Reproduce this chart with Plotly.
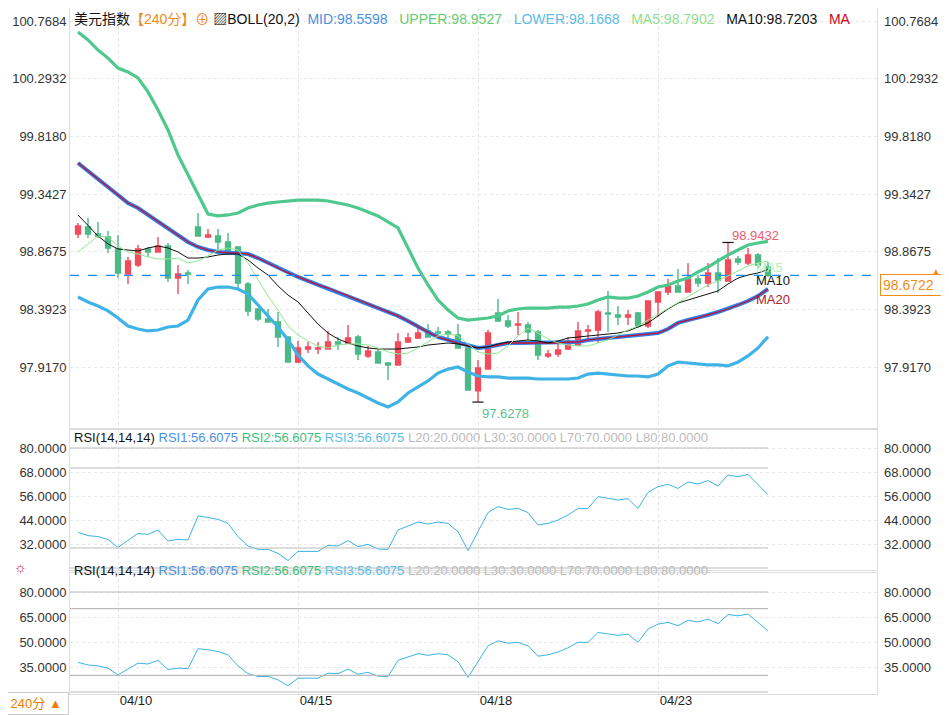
import plotly.graph_objects as go

# 240-minute candles of the US dollar index
open_ = [99.013, 99.071, 99.013, 98.988, 98.890, 98.683, 98.758, 98.890, 98.865, 98.914,
         98.650, 98.692, 99.071, 98.988, 98.997, 98.947, 98.906, 98.601, 98.395, 98.313,
         98.288, 98.164, 97.958, 98.065, 98.065, 98.065, 98.123, 98.115, 98.164, 98.008,
         98.041, 97.950, 97.934, 98.123, 98.156, 98.214, 98.205, 98.205, 98.181, 98.074,
         97.720, 97.901, 98.362, 98.296, 98.263, 98.263, 98.205, 98.008, 98.024, 98.065,
         98.098, 98.214, 98.222, 98.362, 98.346, 98.329, 98.362, 98.255, 98.453, 98.535,
         98.585, 98.535, 98.642, 98.609, 98.692, 98.626, 98.807, 98.774, 98.840, 98.741]
high = [99.104, 99.145, 99.112, 99.038, 99.005, 98.824, 98.922, 98.906, 98.988, 98.939,
        98.758, 98.716, 99.186, 99.054, 99.054, 99.021, 98.906, 98.617, 98.403, 98.395,
        98.370, 98.164, 98.131, 98.123, 98.123, 98.214, 98.164, 98.263, 98.181, 98.090,
        98.057, 97.958, 98.197, 98.197, 98.238, 98.271, 98.247, 98.222, 98.271, 98.115,
        97.975, 98.222, 98.477, 98.346, 98.370, 98.288, 98.222, 98.057, 98.115, 98.164,
        98.288, 98.263, 98.387, 98.544, 98.420, 98.387, 98.370, 98.461, 98.535, 98.642,
        98.725, 98.774, 98.675, 98.774, 98.815, 98.9432, 98.832, 98.898, 98.857, 98.782]
low = [98.980, 98.980, 98.980, 98.857, 98.650, 98.601, 98.741, 98.824, 98.865, 98.617,
       98.519, 98.601, 98.997, 98.980, 98.881, 98.840, 98.568, 98.337, 98.296, 98.288,
       98.082, 97.958, 97.950, 98.032, 98.024, 98.065, 98.057, 98.115, 97.975, 97.991,
       97.950, 97.810, 97.934, 98.115, 98.148, 98.164, 98.164, 98.140, 98.074, 97.728,
       97.6278, 97.901, 98.296, 98.238, 98.181, 98.140, 97.975, 97.991, 97.999, 98.057,
       98.098, 98.140, 98.115, 98.205, 98.263, 98.263, 98.238, 98.238, 98.329, 98.510,
       98.535, 98.535, 98.576, 98.576, 98.527, 98.626, 98.758, 98.758, 98.733, 98.659]
close = [99.079, 99.013, 98.997, 98.898, 98.692, 98.791, 98.890, 98.865, 98.914, 98.650,
         98.683, 98.683, 98.997, 99.005, 98.947, 98.865, 98.609, 98.379, 98.313, 98.288,
         98.164, 97.958, 98.074, 98.082, 98.074, 98.123, 98.107, 98.156, 98.024, 98.049,
         97.950, 97.934, 98.123, 98.156, 98.197, 98.164, 98.197, 98.189, 98.074, 97.728,
         97.909, 98.197, 98.296, 98.255, 98.271, 98.205, 98.016, 98.024, 98.057, 98.098,
         98.214, 98.222, 98.370, 98.354, 98.329, 98.346, 98.255, 98.461, 98.535, 98.585,
         98.535, 98.642, 98.609, 98.692, 98.634, 98.799, 98.782, 98.840, 98.758, 98.6722]

# BOLL(20,2) and moving averages as shown
boll_upper = [100.678, 100.612, 100.529, 100.463, 100.381, 100.349, 100.299, 100.184, 100.035, 99.870,
              99.664, 99.500, 99.335, 99.178, 99.162, 99.170, 99.186, 99.227, 99.252, 99.268,
              99.277, 99.285, 99.293, 99.293, 99.293, 99.285, 99.268, 99.252, 99.227, 99.195,
              99.162, 99.113, 99.063, 98.898, 98.732, 98.593, 98.469, 98.387, 98.321, 98.304,
              98.313, 98.321, 98.338, 98.379, 98.395, 98.403, 98.403, 98.403, 98.411, 98.411,
              98.420, 98.436, 98.469, 98.494, 98.485, 98.485, 98.502, 98.535, 98.576, 98.593,
              98.626, 98.650, 98.700, 98.741, 98.791, 98.840, 98.881, 98.922, 98.939, 98.9527]
boll_mid = [99.598, 99.532, 99.466, 99.401, 99.335, 99.268, 99.227, 99.170, 99.113, 99.054,
            98.997, 98.947, 98.906, 98.881, 98.865, 98.857, 98.857, 98.848, 98.815, 98.774,
            98.733, 98.692, 98.659, 98.626, 98.593, 98.568, 98.535, 98.502, 98.469, 98.436,
            98.403, 98.370, 98.338, 98.296, 98.247, 98.205, 98.164, 98.140, 98.115, 98.090,
            98.074, 98.082, 98.098, 98.115, 98.115, 98.115, 98.115, 98.115, 98.115, 98.123,
            98.123, 98.140, 98.148, 98.156, 98.164, 98.173, 98.181, 98.189, 98.197, 98.230,
            98.280, 98.304, 98.321, 98.346, 98.370, 98.395, 98.428, 98.461, 98.502, 98.5598]
boll_lower = [98.494, 98.453, 98.420, 98.379, 98.321, 98.255, 98.230, 98.214, 98.222, 98.247,
              98.255, 98.304, 98.469, 98.560, 98.576, 98.576, 98.560, 98.519, 98.428, 98.338,
              98.247, 98.140, 98.016, 97.926, 97.859, 97.818, 97.777, 97.736, 97.703, 97.662,
              97.620, 97.588, 97.629, 97.703, 97.752, 97.802, 97.867, 97.900, 97.917, 97.876,
              97.843, 97.835, 97.835, 97.826, 97.826, 97.826, 97.818, 97.818, 97.818, 97.818,
              97.826, 97.859, 97.867, 97.859, 97.851, 97.843, 97.843, 97.835, 97.859, 97.926,
              97.958, 97.950, 97.942, 97.934, 97.934, 97.926, 97.958, 98.008, 98.074, 98.1668]
ma5 = [98.865, 98.931, 98.997, 98.988, 98.914, 98.865, 98.848, 98.824, 98.807, 98.807,
       98.815, 98.774, 98.791, 98.832, 98.881, 98.898, 98.881, 98.774, 98.634, 98.502,
       98.387, 98.255, 98.181, 98.131, 98.090, 98.074, 98.098, 98.107, 98.107, 98.098,
       98.074, 98.041, 98.024, 98.032, 98.074, 98.123, 98.173, 98.189, 98.173, 98.107,
       98.041, 98.024, 98.032, 98.090, 98.173, 98.238, 98.197, 98.148, 98.115, 98.098,
       98.090, 98.090, 98.115, 98.140, 98.181, 98.222, 98.255, 98.304, 98.354, 98.403,
       98.453, 98.502, 98.544, 98.593, 98.626, 98.667, 98.708, 98.750, 98.774, 98.7902]
ma10 = [99.170, 99.079, 98.997, 98.931, 98.890, 98.881, 98.873, 98.898, 98.914, 98.898,
        98.865, 98.815, 98.815, 98.824, 98.840, 98.848, 98.848, 98.799, 98.733, 98.675,
        98.585, 98.510, 98.453, 98.362, 98.271, 98.197, 98.148, 98.115, 98.090, 98.074,
        98.065, 98.065, 98.065, 98.074, 98.082, 98.098, 98.107, 98.115, 98.107, 98.090,
        98.074, 98.082, 98.107, 98.123, 98.131, 98.140, 98.131, 98.115, 98.131, 98.156,
        98.164, 98.173, 98.181, 98.189, 98.197, 98.214, 98.247, 98.280, 98.338, 98.395,
        98.444, 98.469, 98.494, 98.519, 98.544, 98.601, 98.650, 98.675, 98.692, 98.7203]

rsi = [37.8, 36.2, 35.7, 34.3, 30.3, 34.0, 37.3, 36.8, 39.0, 33.5,
       34.3, 34.0, 46.0, 45.3, 44.3, 42.3, 35.7, 31.0, 29.3, 29.3,
       27.3, 23.7, 28.3, 28.3, 28.3, 31.3, 31.0, 33.7, 30.7, 31.8,
       29.5, 29.3, 39.0, 41.0, 43.0, 42.0, 43.0, 42.3, 38.2, 28.7,
       38.2, 47.7, 50.7, 49.3, 49.8, 47.7, 41.5, 42.3, 44.0, 46.5,
       49.8, 49.8, 55.7, 54.8, 54.0, 54.7, 49.8, 57.8, 60.7, 61.8,
       59.8, 63.0, 62.0, 63.7, 61.0, 66.5, 65.7, 66.8, 61.5, 56.6075]

price_ticks = [100.7684, 100.2932, 99.8180, 99.3427, 98.8675, 98.3923, 97.9170]
rsi1_ticks = [80, 68, 56, 44, 32]
rsi2_ticks = [80, 65, 50, 35]
rsi_levels = [20, 30, 70, 80]
date_pos = [4, 22, 40, 58]
date_labels = ["04/10", "04/15", "04/18", "04/23"]
last_price = 98.6722
hi_idx, lo_idx = 65, 40

UP, DOWN = "#f04c5c", "#4cb987"
x = list(range(len(close)))
FONT = "Liberation Sans, Noto Sans CJK SC, sans-serif"
# the page body adds an 8px offset, so the figure is 8px smaller than the window
H = 686  # plot height in px (margin b = 21)


def py(ypix):
    return (694 - ypix) / H


def px(xpix):
    return (xpix - 70) / 807


fig = go.Figure()
fig.add_trace(go.Scatter(x=x, y=boll_upper, mode="lines", line=dict(color="#4ec88d", width=3.2)))
fig.add_trace(go.Scatter(x=x, y=boll_lower, mode="lines", line=dict(color="#3fb3e6", width=3.2)))
fig.add_trace(go.Scatter(x=x, y=boll_mid, mode="lines", line=dict(color="#2e7fe8", width=4)))
fig.add_trace(go.Scatter(x=x, y=boll_mid, mode="lines", line=dict(color="#c8102e", width=1.3)))
fig.add_trace(go.Scatter(x=x, y=ma10, mode="lines", line=dict(color="#111111", width=1)))
fig.add_trace(go.Scatter(x=x, y=ma5, mode="lines", line=dict(color="#90e890", width=1)))
fig.add_trace(go.Candlestick(x=x, open=open_, high=high, low=low, close=close,
                             increasing=dict(line=dict(color=UP, width=1.4), fillcolor=UP),
                             decreasing=dict(line=dict(color=DOWN, width=1.4), fillcolor=DOWN),
                             whiskerwidth=0))
fig.add_trace(go.Scatter(x=[hi_idx, lo_idx], y=[high[hi_idx], low[lo_idx]], mode="markers",
                         marker=dict(symbol="line-ew", size=8, line=dict(color="#111", width=1.2))))
fig.add_trace(go.Scatter(x=x, y=rsi, mode="lines", line=dict(color="#3bb4e8", width=1),
                         xaxis="x2", yaxis="y2"))
fig.add_trace(go.Scatter(x=x, y=rsi, mode="lines", line=dict(color="#3bb4e8", width=1),
                         xaxis="x3", yaxis="y3"))

xcommon = dict(range=[-0.8, 79.9], tickvals=date_pos, showgrid=True, gridcolor="#e4e4e4",
               griddash="dot", zeroline=False, showline=True, linecolor="#dddddd",
               mirror=True, rangeslider=dict(visible=False), fixedrange=True, automargin=False)
ycommon = dict(showgrid=True, gridcolor="#e8e8e8", griddash="dot", zeroline=False,
               showline=True, linecolor="#dddddd", mirror=True, automargin=False,
               tickfont=dict(size=13, color="#333333", family=FONT), ticks="")


def fmt(v):
    return f"{v:.4f}"


fig.update_layout(
    width=941, height=707, showlegend=False, plot_bgcolor="white", paper_bgcolor="white",
    margin=dict(l=62, r=72, t=0, b=21), hovermode=False,
    xaxis=dict(xcommon, domain=[0, 1], anchor="y", showticklabels=False),
    xaxis2=dict(xcommon, domain=[0, 1], anchor="y2", matches="x", showticklabels=False),
    xaxis3=dict(xcommon, domain=[0, 1], anchor="y3", matches="x", ticktext=date_labels,
                ticklabelshift=18, ticklabelstandoff=-6,
                tickfont=dict(size=13, color="#222222", family=FONT)),
    yaxis=dict(ycommon, domain=[py(428), 1], range=[97.4143, 100.8756], tickvals=price_ticks,
               ticktext=[fmt(v) for v in price_ticks]),
    yaxis2=dict(ycommon, domain=[py(570), py(430)], range=[19, 89], tickvals=rsi1_ticks,
                ticktext=[fmt(v) for v in rsi1_ticks]),
    yaxis3=dict(ycommon, domain=[0, py(573)], range=[18.8, 91.4], tickvals=rsi2_ticks,
                ticktext=[fmt(v) for v in rsi2_ticks]),
)

ann = []
# right-hand tick labels
for v in price_ticks:
    ann.append(dict(x=1.006, xref="paper", y=v, yref="y", text=fmt(v), showarrow=False,
                    xanchor="left", font=dict(size=13, color="#333333", family=FONT)))
for v in rsi1_ticks:
    ann.append(dict(x=1.006, xref="paper", y=v, yref="y2", text=fmt(v), showarrow=False,
                    xanchor="left", font=dict(size=13, color="#333333", family=FONT)))
for v in rsi2_ticks:
    ann.append(dict(x=1.006, xref="paper", y=v, yref="y3", text=fmt(v), showarrow=False,
                    xanchor="left", font=dict(size=13, color="#333333", family=FONT)))

shapes = []
for v in rsi_levels:
    for yr in ("y2", "y3"):
        shapes.append(dict(type="line", xref="x", yref=yr, x0=-0.8, x1=69, y0=v, y1=v,
                           line=dict(color="#bbbbbb", width=1.2)))
shapes.append(dict(type="line", xref="paper", yref="y", x0=0, x1=1, y0=last_price, y1=last_price,
                   line=dict(color="#1a8cff", width=1.3, dash="dash")))

header = ("美元指数<span style='color:#f08c1a'>【240分】</span><span style='color:#f08c1a'>⊕</span> "
          "▨BOLL(20,2)  <span style='color:#4a90e2'>MID:98.5598</span>   "
          "<span style='color:#62cc72'>UPPER:98.9527</span>   "
          "<span style='color:#5bbde8'>LOWER:98.1668</span>   "
          "<span style='color:#8fe08f'>MA5:98.7902</span>   "
          "<span style='color:#111'>MA10:98.7203</span>   <span style='color:#d0021b'>MA</span>")
ann.append(dict(x=px(72), xref="paper", y=py(9), yref="paper", text=header, showarrow=False,
                xanchor="left", font=dict(size=14, color="#111111", family=FONT)))
rsi_head = ("RSI(14,14,14) <span style='color:#4a90e2'>RSI1:56.6075</span> "
            "<span style='color:#3cc07a'>RSI2:56.6075</span> "
            "<span style='color:#5bbde8'>RSI3:56.6075</span> "
            "<span style='color:#bbbbbb'>L20:20.0000 L30:30.0000 L70:70.0000 L80:80.0000</span>")
for yy in (437, 580):
    ann.append(dict(x=px(72), xref="paper", y=py(yy), yref="paper", text=rsi_head,
                    showarrow=False, xanchor="left", font=dict(size=13, color="#111111", family=FONT)))
ann.append(dict(x=px(12), xref="paper", y=py(578), yref="paper", text="☼", showarrow=False,
                font=dict(size=14, color="#d0021b")))
ann.append(dict(x=hi_idx, y=high[hi_idx], text="98.9432", showarrow=False, xanchor="left", yshift=7,
                xshift=2, font=dict(size=13, color="#f05c6c", family=FONT)))
ann.append(dict(x=lo_idx, y=low[lo_idx], text="97.6278", showarrow=False, xanchor="left", yshift=-11,
                xshift=2, font=dict(size=13, color="#5cc08a", family=FONT)))
ann.append(dict(x=69, y=ma5[69], text="MA5", showarrow=False, xanchor="left", xshift=-14,
                yshift=-6, font=dict(size=13, color="#b8f0b8", family=FONT)))
ann.append(dict(x=69, y=ma10[69], text="MA10", showarrow=False, xanchor="left", xshift=-14,
                yshift=-11, font=dict(size=13, color="#111111", family=FONT)))
ann.append(dict(x=69, y=boll_mid[69], text="MA20", showarrow=False, xanchor="left", xshift=-14,
                yshift=-10, font=dict(size=13, color="#b0202a", family=FONT)))
ann.append(dict(x=px(880), xref="paper", y=last_price, yref="y", text="98.6722  ",
                showarrow=False, xanchor="left", yshift=-10, bordercolor="#f08c1a", borderwidth=1,
                borderpad=2, bgcolor="white", font=dict(size=14, color="#f08c1a", family=FONT)))
ann.append(dict(x=px(942), xref="paper", y=last_price, yref="y", text="▲", showarrow=False,
                yshift=5, font=dict(size=8, color="#f08c1a")))
ann.append(dict(x=px(3), xref="paper", y=-21 / H, yref="paper", text=" 240分 ▲ ", showarrow=False,
                xanchor="left", yanchor="bottom", bordercolor="#cccccc", borderwidth=1, borderpad=3,
                bgcolor="white", font=dict(size=13, color="#f07d00", family=FONT)))

fig.update_layout(annotations=ann, shapes=shapes)
fig.write_html("out.html")
